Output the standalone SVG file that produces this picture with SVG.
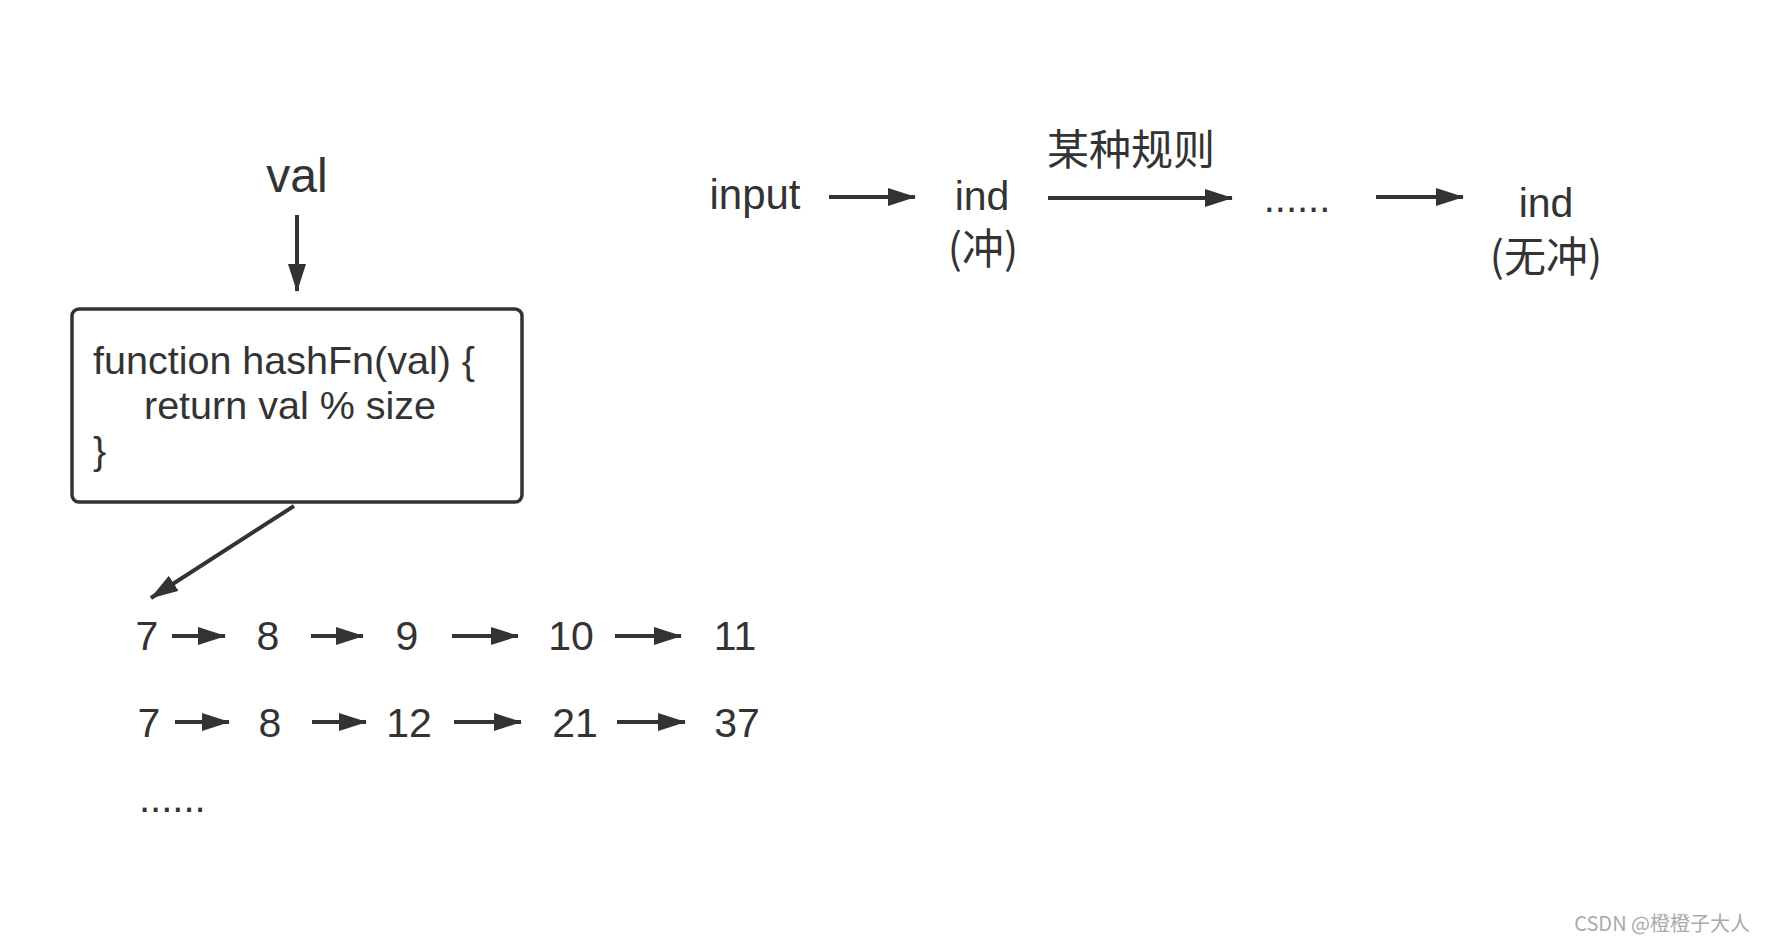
<svg xmlns="http://www.w3.org/2000/svg" width="1766" height="944" viewBox="0 0 1766 944">
<style>
.t{font-family:"Liberation Sans","Noto Sans CJK SC",sans-serif;fill:#333333;}
.c{font-family:"Noto Sans CJK SC","Liberation Sans",sans-serif;fill:#333333;}
.n{font-size:41px;text-anchor:middle;}
.l{stroke:#333333;stroke-width:4;fill:none;marker-end:url(#ah);}
</style>
<defs>
<marker id="ah" markerUnits="userSpaceOnUse" markerWidth="28" markerHeight="18" refX="27" refY="9" orient="auto">
<path d="M0,0 L28,9 L0,18 z" fill="#333333"/>
</marker>
</defs>
<rect width="1766" height="944" fill="#ffffff"/>

<g id="val"><text class="t" x="297" y="192" font-size="48" text-anchor="middle">val</text></g>

<g id="hashfn">
<rect x="72" y="309" width="450" height="193" rx="7" ry="7" fill="#ffffff" stroke="#333333" stroke-width="3.5"/>
<text class="t" font-size="39.5" x="93" y="374">function hashFn(val) {</text>
<text class="t" font-size="39.5" x="144" y="419">return val % size</text>
<text class="t" font-size="39.5" x="93" y="464">}</text>
</g>

<g id="row1">
<text class="t n" x="147" y="650">7</text>
<text class="t n" x="268" y="650">8</text>
<text class="t n" x="407" y="650">9</text>
<text class="t n" x="571" y="650">10</text>
<text class="t n" x="735" y="650">11</text>
</g>
<g id="row2">
<text class="t n" x="149" y="737">7</text>
<text class="t n" x="270" y="737">8</text>
<text class="t n" x="409" y="737">12</text>
<text class="t n" x="575" y="737">21</text>
<text class="t n" x="737" y="737">37</text>
</g>
<g id="more"><text class="t" x="139" y="812" font-size="40">......</text></g>

<g id="input"><text class="t" x="755" y="209" font-size="42" text-anchor="middle">input</text></g>
<g id="ind1">
<text class="t" x="982" y="210" font-size="41" text-anchor="middle">ind</text>
<text class="c" x="983" y="264" font-size="42" text-anchor="middle">(冲)</text>
</g>
<g id="rule"><text class="c" x="1131" y="165" font-size="42" text-anchor="middle">某种规则</text></g>
<g id="dots"><text class="t" x="1297" y="212" font-size="40" text-anchor="middle">......</text></g>
<g id="ind2">
<text class="t" x="1546" y="217" font-size="41" text-anchor="middle">ind</text>
<text class="c" x="1546" y="272" font-size="42" text-anchor="middle">(无冲)</text>
</g>

<g id="connectors">
<line class="l" x1="297" y1="215" x2="297" y2="291"/>
<line class="l" x1="294" y1="506" x2="151" y2="598"/>
<line class="l" x1="172" y1="636" x2="225" y2="636"/>
<line class="l" x1="311" y1="636" x2="363" y2="636"/>
<line class="l" x1="452" y1="636" x2="518" y2="636"/>
<line class="l" x1="615" y1="636" x2="681" y2="636"/>
<line class="l" x1="175" y1="722" x2="229" y2="722"/>
<line class="l" x1="312" y1="722" x2="366" y2="722"/>
<line class="l" x1="454" y1="722" x2="521" y2="722"/>
<line class="l" x1="617" y1="722" x2="685" y2="722"/>
<line class="l" x1="829" y1="197" x2="915" y2="197"/>
<line class="l" x1="1048" y1="198" x2="1232" y2="198"/>
<line class="l" x1="1376" y1="197" x2="1463" y2="197"/>
</g>

<g id="watermark"><text x="1750" y="931" font-family="'Noto Sans CJK SC','Liberation Sans',sans-serif" font-size="20" fill="#aaaaaa" text-anchor="end">CSDN @橙橙子大人</text></g>
</svg>
